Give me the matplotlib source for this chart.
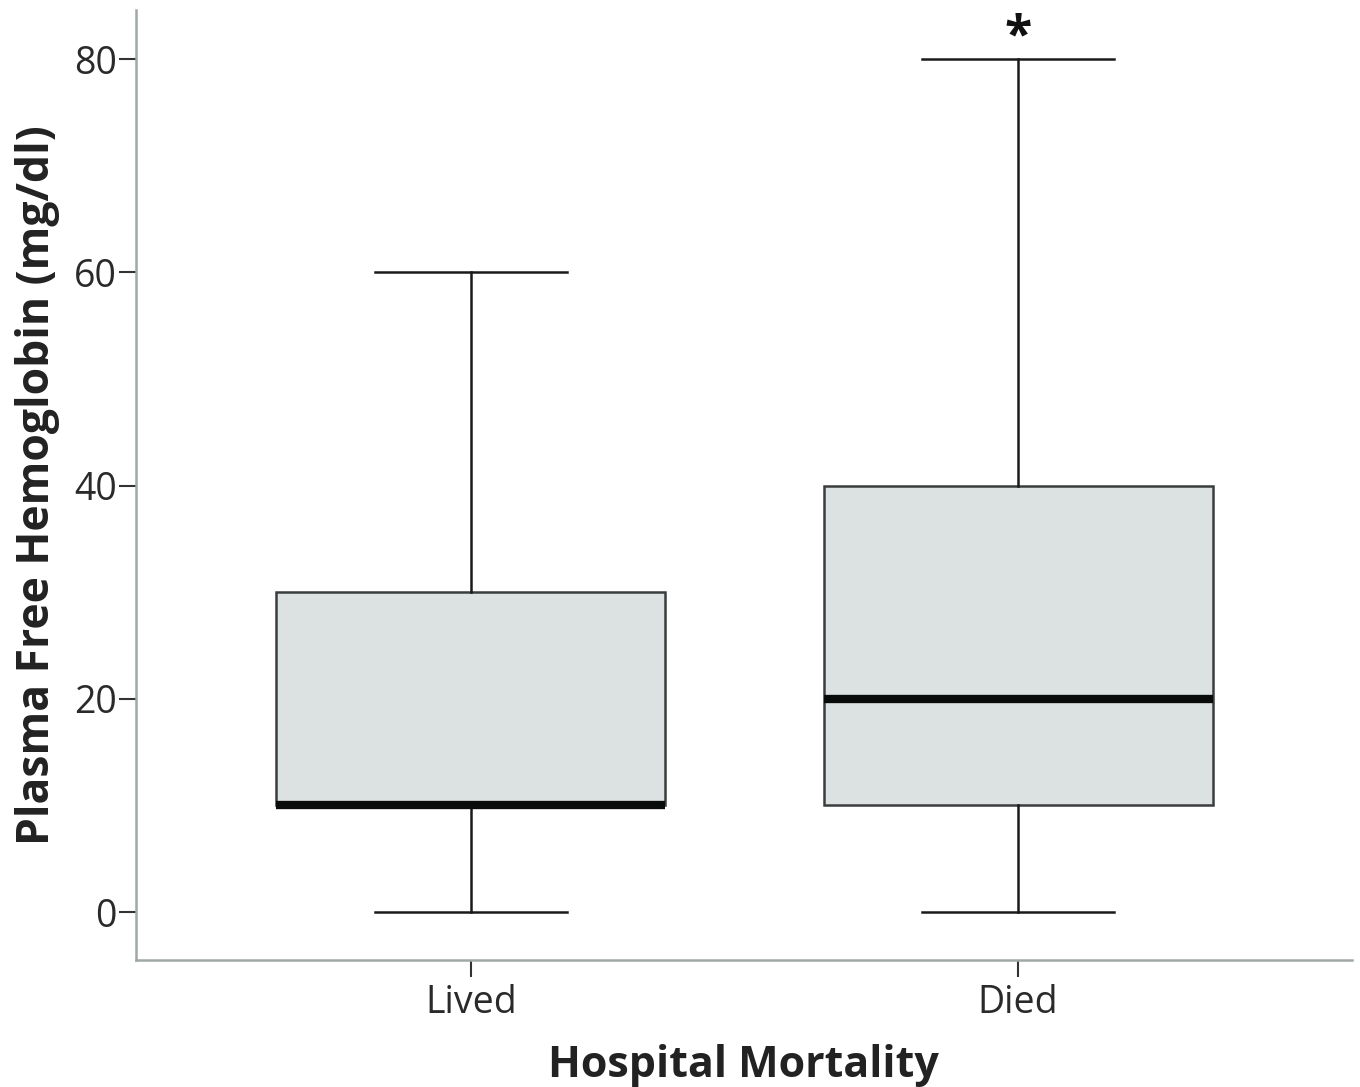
import matplotlib
matplotlib.use("Agg")
import matplotlib.pyplot as plt

categories = ["Lived", "Died"]
whislo = [0, 0]
q1 = [10, 10]
med = [10, 20]
q3 = [30, 40]
whishi = [60, 80]
yticks = [0, 20, 40, 60, 80]

plt.rcParams['font.family'] = ['Open Sans', 'DejaVu Sans']

fig = plt.figure(figsize=(13.6, 10.87), dpi=100)
ax = fig.add_axes([0.1, 0.1168, 0.894, 0.874])

stats = []
for i, c in enumerate(categories):
    stats.append(dict(label=c, whislo=whislo[i], q1=q1[i], med=med[i], q3=q3[i], whishi=whishi[i], fliers=[]))

ax.bxp(stats, positions=[0, 1], widths=0.711, patch_artist=True, showfliers=False,
       boxprops=dict(facecolor='#dce2e1', edgecolor='#3a3d3d', linewidth=1.8),
       medianprops=dict(color='#0a0c0c', linewidth=6),
       whiskerprops=dict(color='#1a1a1a', linewidth=1.8),
       capprops=dict(color='#1a1a1a', linewidth=1.8),
       capwidths=0.35)

ax.text(1, 80.8, '*', ha='center', va='baseline', fontsize=36, fontweight='bold',
        color='#111111', clip_on=False)

ax.set_xlim(-0.612, 1.61)
ax.set_ylim(-4.5, 84.6)
ax.set_yticks(yticks)
ax.set_xticks([0, 1])
ax.set_xticklabels(categories)
for s in ['top', 'right']:
    ax.spines[s].set_visible(False)
for s in ['left', 'bottom']:
    ax.spines[s].set_color('#a0a8a8')
    ax.spines[s].set_linewidth(1.8)
ax.tick_params(axis='both', direction='out', length=12, width=1.5, color='#333333',
               labelsize=27, labelcolor='#2a2a2a')
ax.tick_params(axis='y', pad=2)
ax.tick_params(axis='x', pad=5)
ax.set_xlabel('Hospital Mortality', fontsize=31, fontweight='bold', color='#222222', labelpad=16)
ax.set_ylabel('Plasma Free Hemoglobin (mg/dl)', fontsize=32, fontweight='bold', color='#222222', labelpad=10)

fig.savefig('out.png', dpi=100)
